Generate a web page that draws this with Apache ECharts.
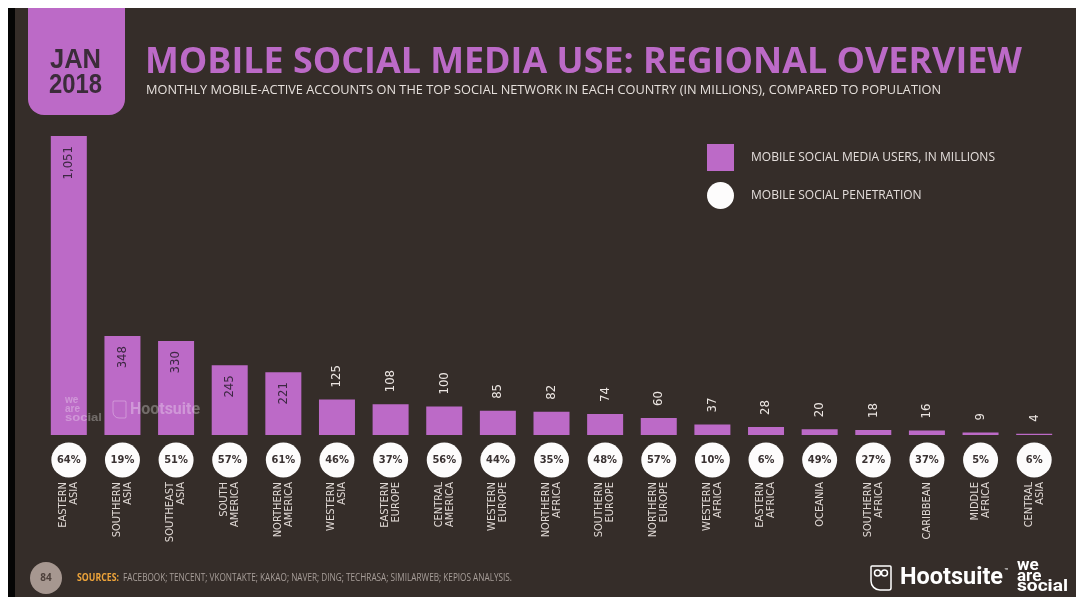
<!DOCTYPE html>
<html>
<head>
<meta charset="utf-8">
<script src="https://cdn.jsdelivr.net/npm/echarts@6/dist/echarts.min.js"></script>
<style>
  html, body { margin: 0; padding: 0; background: #fff; }
  #chart { width: 1076px; height: 597px; }
</style>
</head>
<body>
<div id="chart"></div>
<script>
// Regions, ordered by mobile social media users
const regions = [
  'Eastern Asia', 'Southern Asia', 'Southeast Asia', 'South America', 'Northern America',
  'Western Asia', 'Eastern Europe', 'Central America', 'Western Europe', 'Northern Africa',
  'Southern Europe', 'Northern Europe', 'Western Africa', 'Eastern Africa', 'Oceania',
  'Southern Africa', 'Caribbean', 'Middle Africa', 'Central Asia'
];
// Mobile social media users, in millions
const users = [1051, 348, 330, 245, 221, 125, 108, 100, 85, 82, 74, 60, 37, 28, 20, 18, 16, 9, 4];
// Mobile social penetration, percent of population
const penetration = [64, 19, 51, 57, 61, 46, 37, 56, 44, 35, 48, 57, 10, 6, 49, 27, 37, 5, 6];

const USERS_NAME = 'MOBILE SOCIAL MEDIA USERS, IN MILLIONS';
const PEN_NAME = 'MOBILE SOCIAL PENETRATION';
const TITLE = 'MOBILE SOCIAL MEDIA USE: REGIONAL OVERVIEW';
const SUBTITLE = 'MONTHLY MOBILE-ACTIVE ACCOUNTS ON THE TOP SOCIAL NETWORK IN EACH COUNTRY (IN MILLIONS), COMPARED TO POPULATION';
const SOURCES = 'FACEBOOK; TENCENT; VKONTAKTE; KAKAO; NAVER; DING; TECHRASA; SIMILARWEB; KEPIOS ANALYSIS.';

const BG = '#352d29';
const PURPLE = '#bc6ac7';
const WHITE = '#fdfcfc';
const NARROW = '"Liberation Sans Narrow", "DejaVu Sans Condensed", sans-serif';
const WIDE = '"Open Sans", "DejaVu Sans", sans-serif';
const BADGE = '"Liberation Sans", Arial, sans-serif';

// horizontal scale that makes a string span a given width
const measureCtx = document.createElement('canvas').getContext('2d');
function fit(text, font, width) {
  measureCtx.font = font;
  return width / measureCtx.measureText(text).width;
}

function textEl(opts) {
  const font = (opts.weight || 'normal') + ' ' + opts.size + 'px ' + opts.family;
  const el = {
    type: 'text',
    x: opts.x,
    y: opts.y,
    z: opts.z || 10,
    style: {
      text: opts.text,
      fill: opts.fill,
      font: font,
      align: opts.align || 'left',
      verticalAlign: 'middle',
      opacity: opts.opacity == null ? 1 : opts.opacity
    }
  };
  if (opts.width) el.scaleX = fit(opts.text, font, opts.width);
  return el;
}

const insideLabel = {
  show: true, position: 'insideTop', rotate: 90, align: 'right', verticalAlign: 'middle',
  distance: 10, color: '#3d2843', fontSize: 13, fontFamily: NARROW
};
const topLabel = {
  show: true, position: 'top', rotate: 90, align: 'left', verticalAlign: 'middle',
  distance: 12, color: '#ece6e2', fontSize: 13, fontFamily: NARROW
};

const barData = users.map(v => ({ value: v, label: v >= 200 ? insideLabel : topLabel }));
const penData = regions.map((r, i) => [r, 'pen', penetration[i]]);

const chart = echarts.init(document.getElementById('chart'), null, { renderer: 'canvas' });

chart.setOption({
  backgroundColor: BG,
  animation: false,
  legend: {
    orient: 'vertical',
    left: 702,
    top: 139,
    itemWidth: 27,
    itemHeight: 27,
    itemGap: 11,
    selectedMode: false,
    data: [
      { name: USERS_NAME, icon: 'rect', itemStyle: { color: PURPLE, opacity: 1 } },
      { name: PEN_NAME, icon: 'circle', itemStyle: { color: WHITE, opacity: 1 } }
    ],
    textStyle: { color: '#e4dedb', fontSize: 12, fontFamily: WIDE, padding: [0, 0, 0, 12] }
  },
  grid: [
    { left: 42, right: 15, top: 136, bottom: 162 },
    { left: 42, right: 15, top: 442, bottom: 119 }
  ],
  xAxis: [
    {
      type: 'category', gridIndex: 0, data: regions,
      axisLine: { show: false }, axisTick: { show: false }, axisLabel: { show: false }
    },
    {
      type: 'category', gridIndex: 1, data: regions,
      axisLine: { show: false }, axisTick: { show: false },
      axisLabel: {
        interval: 0, rotate: 90, margin: 4,
        color: '#e0d9d5', fontSize: 11, lineHeight: 11, fontFamily: NARROW,
        formatter: s => s.toUpperCase().replace(' ', '\n')
      }
    }
  ],
  yAxis: [
    { type: 'value', gridIndex: 0, min: 0, max: 1051, show: false, splitLine: { show: false } },
    { type: 'category', gridIndex: 1, data: ['pen'], show: false }
  ],
  series: [
    {
      name: USERS_NAME,
      type: 'bar',
      xAxisIndex: 0,
      yAxisIndex: 0,
      barWidth: 36,
      itemStyle: { color: PURPLE },
      label: { formatter: p => p.value.toLocaleString('en-US') },
      data: barData
    },
    {
      name: PEN_NAME,
      type: 'scatter',
      xAxisIndex: 1,
      yAxisIndex: 1,
      symbol: 'circle',
      symbolSize: 35,
      itemStyle: { color: WHITE, opacity: 1 },
      label: {
        show: true, position: 'inside',
        color: '#3a3232', fontSize: 11, fontWeight: 'bold', fontFamily: NARROW,
        formatter: p => p.value[2] + '%'
      },
      data: penData
    }
  ],
  graphic: [
    // frame strips
    { type: 'rect', z: 20, shape: { x: 0, y: 0, width: 1076, height: 8 }, style: { fill: '#ffffff' } },
    { type: 'rect', z: 20, shape: { x: 0, y: 0, width: 8, height: 597 }, style: { fill: '#ffffff' } },
    { type: 'rect', z: 20, shape: { x: 8, y: 8, width: 7, height: 589 }, style: { fill: '#050505' } },

    // date badge
    { type: 'rect', z: 5, shape: { x: 28, y: 8, width: 97, height: 107, r: [0, 0, 16, 16] }, style: { fill: PURPLE } },
    textEl({ text: 'JAN', x: 75.5, y: 61, size: 27, weight: 'bold', family: BADGE, fill: '#3b2c3a', align: 'center', width: 51 }),
    textEl({ text: '2018', x: 75.5, y: 85.5, size: 27, weight: 'bold', family: BADGE, fill: '#3b2c3a', align: 'center', width: 53 }),

    // headings
    textEl({ text: TITLE, x: 145, y: 63, size: 35, weight: 'bold', family: WIDE, fill: PURPLE, width: 877 }),
    textEl({ text: SUBTITLE, x: 146, y: 90, size: 13.5, family: WIDE, fill: '#e6e0dc', width: 795 }),

    // faint logos over the first bars
    textEl({ text: 'we', x: 65, y: 400, size: 10, weight: 'bold', family: '"Liberation Sans", sans-serif', fill: '#ffffff', opacity: 0.3, z: 30 }),
    textEl({ text: 'are', x: 65, y: 409, size: 10, weight: 'bold', family: '"Liberation Sans", sans-serif', fill: '#ffffff', opacity: 0.3, z: 30 }),
    textEl({ text: 'social', x: 65, y: 418, size: 10, weight: 'bold', family: '"Liberation Sans", sans-serif', fill: '#ffffff', opacity: 0.3, z: 30, width: 37 }),
    { type: 'rect', z: 30, shape: { x: 113, y: 401, width: 13, height: 17, r: [1, 1, 1, 6] }, style: { fill: 'none', stroke: '#ffffff', lineWidth: 1, opacity: 0.3 } },
    textEl({ text: 'Hootsuite', x: 130, y: 410, size: 16, weight: 'bold', family: 'Roboto, sans-serif', fill: '#ffffff', opacity: 0.3, z: 30, width: 70 }),

    // footer
    { type: 'circle', z: 10, shape: { cx: 46, cy: 578, r: 16 }, style: { fill: '#a69790' } },
    textEl({ text: '84', x: 46, y: 578, size: 10, weight: 'bold', family: WIDE, fill: '#4d403b', align: 'center' }),
    textEl({ text: 'SOURCES:', x: 77, y: 578, size: 10, weight: 'bold', family: WIDE, fill: '#eea43a', width: 42 }),
    textEl({ text: SOURCES, x: 123, y: 578, size: 10, family: WIDE, fill: '#a79e99', width: 389 }),

    // Hootsuite / We Are Social marks
    { type: 'rect', z: 10, shape: { x: 871, y: 566, width: 20, height: 24, r: [1, 1, 2, 9] }, style: { fill: 'none', stroke: '#ffffff', lineWidth: 1.5 } },
    { type: 'circle', z: 10, shape: { cx: 877.5, cy: 573, r: 3 }, style: { fill: 'none', stroke: '#ffffff', lineWidth: 1.5 } },
    { type: 'circle', z: 10, shape: { cx: 884.5, cy: 573, r: 3 }, style: { fill: 'none', stroke: '#ffffff', lineWidth: 1.5 } },
    textEl({ text: 'Hootsuite', x: 900, y: 578, size: 24, weight: 'bold', family: 'Roboto, sans-serif', fill: '#ffffff', width: 103 }),
    textEl({ text: '™', x: 1004, y: 571, size: 7, family: 'Roboto, sans-serif', fill: '#ffffff' }),
    textEl({ text: 'we', x: 1017, y: 566, size: 17, weight: 'bold', family: 'Roboto, sans-serif', fill: '#ffffff' }),
    textEl({ text: 'are', x: 1017, y: 576.5, size: 17, weight: 'bold', family: 'Roboto, sans-serif', fill: '#ffffff' }),
    textEl({ text: 'social', x: 1017, y: 587, size: 17, weight: 'bold', family: 'Roboto, sans-serif', fill: '#ffffff', width: 51 })
  ]
});
</script>
</body>
</html>
